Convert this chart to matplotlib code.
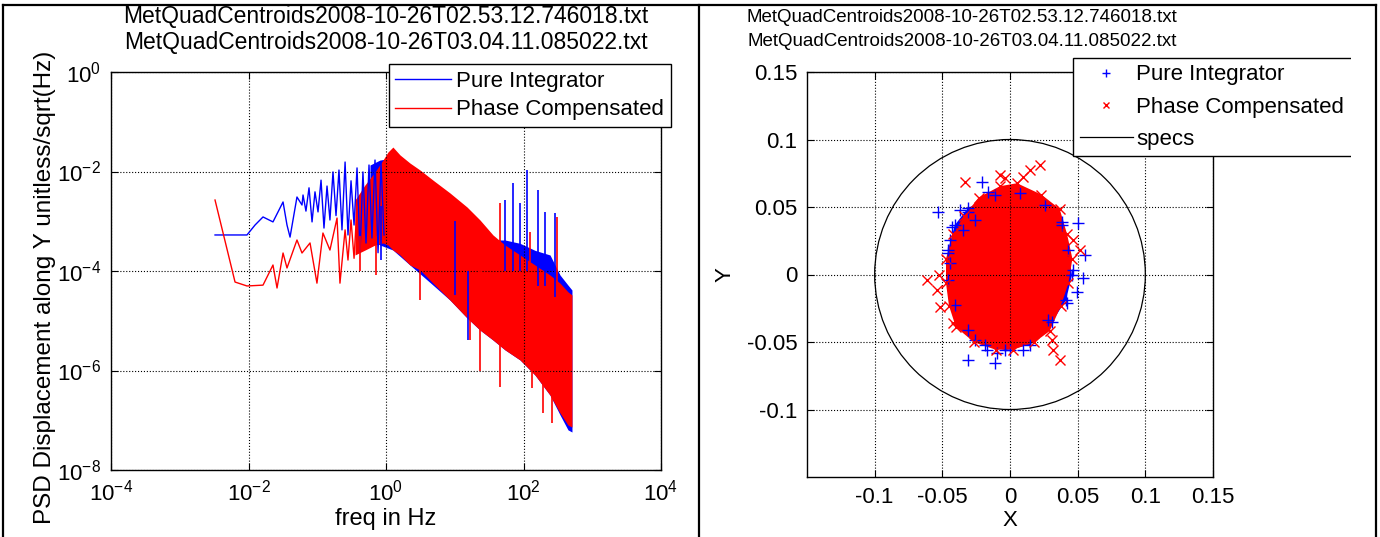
import matplotlib
matplotlib.use("Agg")
import matplotlib.pyplot as plt
from matplotlib.patches import Circle
from matplotlib.lines import Line2D
from matplotlib.transforms import Bbox, TransformedBbox
from matplotlib.ticker import NullLocator, LogFormatterMathtext

plt.rcParams['font.family'] = ['Liberation Sans', 'DejaVu Sans']
plt.rcParams['mathtext.fontset'] = 'custom'
plt.rcParams['mathtext.rm'] = 'Liberation Sans'
plt.rcParams['mathtext.default'] = 'regular'
plt.rcParams['axes.unicode_minus'] = False

BLUE = '#0000ff'
RED = '#ff0000'

file_a = 'MetQuadCentroids2008-10-26T02.53.12.746018.txt'
file_b = 'MetQuadCentroids2008-10-26T03.04.11.085022.txt'

# ---------------------------------------------------------------
# PSD panel, values
# ---------------------------------------------------------------
# Pure Integrator, sparse low-frequency part
pi_low_f = [0.00326, 0.0095, 0.01245, 0.01626, 0.0227, 0.0318, 0.0363, 0.0402,
            0.0507, 0.060, 0.0621, 0.0685, 0.0759, 0.084, 0.0927, 0.1026, 0.1135,
            0.1253, 0.1387, 0.153, 0.1694, 0.1875, 0.207, 0.229, 0.254, 0.28, 0.31,
            0.343, 0.379, 0.419, 0.462, 0.512, 0.566, 0.625, 0.692, 0.766, 0.846,
            0.935]
pi_low_psd = [5.3e-4, 5.3e-4, 8.4e-4, 1.22e-3, 9.7e-4, 2.44e-3, 8.4e-4, 4.8e-4,
              3.07e-3, 2.12e-3, 3.37e-3, 1.6e-3, 4.7e-3, 9.7e-4, 3.9e-3, 1.54e-3,
              6.7e-3, 7.3e-4, 5.1e-3, 1.06e-3, 9.8e-3, 1.3e-3, 1.07e-2, 6.7e-4,
              1.55e-2, 5.3e-4, 6.5e-3, 8.4e-4, 1.18e-2, 2.4e-4, 9.8e-3, 3.64e-4,
              1.35e-2, 4.6e-4, 1.7e-2, 2.33e-4, 1.48e-2, 5.3e-4]
# Pure Integrator, dense part (envelope of the noise)
pi_band_f = [0.585, 0.818, 1.26, 2.23, 4.83, 8.53, 15.1, 23.3, 36, 53.8, 89, 147,
             243, 340, 444, 507]
pi_band_hi = [1.35e-2, 1.7e-2, 1.87e-2, 1.35e-2, 5.4e-3, 2.67e-3, 1.34e-3, 5.3e-4,
              4.2e-4, 4.2e-4, 3.6e-4, 2.6e-4, 2.1e-4, 8.3e-5, 5.2e-5, 4.15e-5]
pi_band_lo = [4.2e-4, 3.33e-4, 2.64e-4, 1.32e-4, 5.2e-5, 2.6e-5, 1.14e-5, 6.5e-6,
              4.1e-6, 2.6e-6, 1.63e-6, 8.1e-7, 3.2e-7, 1.28e-7, 6.4e-8, 5.8e-8]
pi_spike_f = [0.85, 10.1, 15.6, 53.8, 70.3, 89, 112, 163, 206, 287]
pi_spike_lo = [1.66e-4, 3.3e-5, 4.1e-6, 1e-4, 1e-4, 1e-4, 1e-4, 5e-5, 5e-5, 3e-5]
pi_spike_hi = [2e-3, 1e-3, 1e-4, 2.67e-3, 5.9e-3, 2.3e-3, 1.07e-2, 4.25e-3, 1.5e-3,
               1.47e-3]

# Phase Compensated, sparse low-frequency part
pc_low_f = [0.00326, 0.00637, 0.0095, 0.01626, 0.0227, 0.026, 0.0318, 0.0363,
            0.0507, 0.060, 0.0785, 0.099, 0.121, 0.153, 0.194, 0.214, 0.254, 0.28,
            0.31, 0.343, 0.379]
pc_low_psd = [2.67e-3, 6.0e-5, 5.0e-5, 5.2e-5, 1.32e-4, 4.55e-5, 2.3e-4, 1.15e-4,
              4.2e-4, 2.3e-4, 3.66e-4, 5.7e-5, 5.8e-4, 2.64e-4, 1.16e-3, 5.7e-5,
              6.7e-4, 1.66e-4, 1.06e-3, 1.8e-4, 2.0e-3]
# Phase Compensated, dense part
pc_band_f = [0.354, 0.496, 0.692, 0.904, 1.07, 1.26, 1.6, 2.23, 3.13, 4.83,
             8.53, 15.1, 23.3, 36, 53.8, 89, 147, 243, 340, 444, 507]
pc_band_hi = [2.67e-3, 5.4e-3, 9.8e-3, 1.7e-2, 2.47e-2, 3.1e-2, 2.15e-2,
              1.48e-2, 1.07e-2, 6.7e-3, 3.7e-3, 1.93e-3, 1.06e-3, 5.3e-4, 3.33e-4,
              2.1e-4, 1.32e-4, 8.3e-5, 5.7e-5, 3.8e-5, 3.3e-5]
pc_band_lo = [2.1e-4, 2.64e-4, 3.33e-4, 3.66e-4, 3.33e-4, 2.64e-4, 2.1e-4,
              1.32e-4, 1.05e-4, 5.7e-5, 2.6e-5, 1.14e-5, 6.5e-6, 4.1e-6, 2.6e-6,
              1.63e-6, 8.1e-7, 3.2e-7, 1.4e-7, 8.0e-8, 7.3e-8]
pc_spike_f = [45.5, 307, 124, 23.3, 45.5, 133, 192, 260, 16.7, 3.13, 0.72, 0.42]
pc_spike_lo = [2e-4, 3e-5, 1.5e-4, 1e-6, 4.66e-7, 4.45e-7, 1.4e-7, 8.8e-8, 4.1e-6,
               2.6e-5, 8.3e-5, 1.0e-4]
pc_spike_hi = [2.33e-3, 1.22e-3, 6e-4, 1e-4, 1e-5, 1e-5, 5e-6, 2e-6, 5e-5, 2e-4,
               5e-4, 5e-4]

# ---------------------------------------------------------------
# Centroid panel, values
# ---------------------------------------------------------------
# dense cores (outline of the filled cloud)
pi_core_x = [-0.0111, 0.0074, 0.0259, 0.0384, 0.0429, 0.0458, 0.0414, 0.031, 0.0148,
             -0.0037, -0.0185, -0.031, -0.0407, -0.0458, -0.0458, -0.0407, -0.031]
pi_core_y = [0.0589, 0.0604, 0.0515, 0.0389, 0.0181, -0.0004, -0.0189, -0.0352,
             -0.0522, -0.0559, -0.0522, -0.0411, -0.0226, -0.0041, 0.0181, 0.0367,
             0.0493]
pc_core_x = [-0.0074, 0.0052, 0.0232, 0.0367, 0.0422, 0.0461, 0.0432, 0.0377, 0.0293,
             0.018, 0.0022, -0.0106, -0.0264, -0.040, -0.0451, -0.0473, -0.0473,
             -0.0422, -0.0338, -0.0232]
pc_core_y = [0.0654, 0.0676, 0.0592, 0.0486, 0.0298, 0.0117, -0.0063, -0.0231,
             -0.0419, -0.0503, -0.0557, -0.0557, -0.0503, -0.0389, -0.0231, -0.0063,
             0.0117, 0.0298, 0.0434, 0.057]
# scattered points outside the cores
pi_out_x = [-0.0207, -0.0163, -0.037, -0.031, -0.0429, -0.0347, -0.0259, -0.0443,
            -0.0458, -0.0443, 0.0503, 0.0384, 0.0466, 0.054, 0.0495, 0.0421, 0.0281,
            -0.0259, -0.017, -0.0096, -0.0111, 0.0, 0.0096, -0.031, -0.0532, 0.0554]
pi_out_y = [0.0685, 0.0611, 0.0478, 0.0463, 0.0352, 0.033, 0.0404, 0.0256, 0.0159,
            0.0085, 0.0381, 0.0367, 0.0033, -0.0026, -0.013, -0.0211, -0.0337,
            -0.0485, -0.0559, -0.0581, -0.0656, -0.0559, -0.0559, -0.0633, 0.0463,
            0.0144]
pc_out_x = [-0.0333, -0.0037, 0.0148, 0.0096, 0.0222, 0.0466, 0.0517, -0.0613,
            -0.054, -0.0517, -0.0421, 0.0318, 0.031, 0.037, -0.0525, -0.0074]
pc_out_y = [0.0685, 0.0715, 0.0774, 0.0722, 0.0811, 0.0256, 0.0181, -0.0041,
            -0.0115, -0.0241, -0.0359, -0.0559, -0.0485, -0.0633, -0.0004, 0.0737]
spec_radius = 0.1

xy_ticks = [-0.1, -0.05, 0, 0.05, 0.1, 0.15]
xy_ticklabels = ['-0.1', '-0.05', '0', '0.05', '0.1', '0.15']

W, H = 1380, 537
fig = plt.figure(figsize=(W / 100, H / 100), dpi=100)


def style_axes(ax):
    ax.grid(True, which='major', linestyle=':', color='k', linewidth=0.8)
    ax.tick_params(direction='in', length=5, width=0.8, top=True, right=True,
                   labelsize=16, pad=7)
    for s in ax.spines.values():
        s.set_linewidth(1.0)


# ---- left: PSD ----
ax1 = fig.add_axes([111 / W, 1 - 470 / H, 550 / W, 398 / H])
ax1.set_xscale('log')
ax1.set_yscale('log')
ax1.fill_between(pi_band_f, pi_band_lo, pi_band_hi, color=BLUE, lw=0)
ax1.vlines(pi_spike_f, pi_spike_lo, pi_spike_hi, color=BLUE, lw=1.2)
l1, = ax1.plot(pi_low_f, pi_low_psd, color=BLUE, lw=1, label='Pure Integrator')
ax1.fill_between(pc_band_f, pc_band_lo, pc_band_hi, color=RED, lw=0)
ax1.vlines(pc_spike_f, pc_spike_lo, pc_spike_hi, color=RED, lw=1.2)
l2, = ax1.plot(pc_low_f, pc_low_psd, color=RED, lw=1, label='Phase Compensated')
ax1.set_xlim(1e-4, 1e4)
ax1.set_ylim(1e-8, 1)
ax1.set_xticks([1e-4, 1e-2, 1, 1e2, 1e4])
ax1.set_yticks([1e-8, 1e-6, 1e-4, 1e-2, 1])
ax1.xaxis.set_minor_locator(NullLocator())
ax1.yaxis.set_minor_locator(NullLocator())
ax1.xaxis.set_major_formatter(LogFormatterMathtext())
ax1.yaxis.set_major_formatter(LogFormatterMathtext())
style_axes(ax1)
ax1.set_xlabel('freq in Hz', fontsize=17, labelpad=2)
fig.text(45 / W, 1 - 287 / H, 'PSD Displacement along Y unitless/sqrt(Hz)',
         rotation=90, ha='center', va='center', fontsize=17.5)
leg1 = ax1.legend(handles=[l1, l2], loc='upper right', bbox_to_anchor=(1.018, 1.02),
                  borderaxespad=0, fontsize=16, fancybox=False, edgecolor='k',
                  framealpha=1, handlelength=2.5, handletextpad=0.25,
                  borderpad=0.3, labelspacing=0.35)
leg1.get_frame().set_linewidth(1.0)
fig.text(386 / W, 1 - 17 / H, file_a, ha='center', va='center', fontsize=16.5)
fig.text(386 / W, 1 - 42 / H, file_b, ha='center', va='center', fontsize=16.5)

# ---- right: centroids ----
ax2 = fig.add_axes([807 / W, 1 - 477 / H, 406 / W, 405 / H])
ax2.fill(pi_core_x, pi_core_y, color=BLUE, lw=0)
ax2.plot(pi_core_x, pi_core_y, '+', color=BLUE, ms=9, mew=1)
h1, = ax2.plot(pi_out_x, pi_out_y, '+', color=BLUE, ms=9, mew=1, label='Pure Integrator')
ax2.fill(pc_core_x, pc_core_y, color=RED, lw=0)
ax2.plot(pc_core_x, pc_core_y, 'x', color=RED, ms=7, mew=1)
h2, = ax2.plot(pc_out_x, pc_out_y, 'x', color=RED, ms=7, mew=1, label='Phase Compensated')
ax2.add_patch(Circle((0, 0), spec_radius, fill=False, color='k', lw=0.9))
h3 = Line2D([], [], color='k', lw=0.9, label='specs')
ax2.set_xlim(-0.15, 0.15)
ax2.set_ylim(-0.15, 0.15)
ax2.set_xticks(xy_ticks, xy_ticklabels)
ax2.set_yticks(xy_ticks, xy_ticklabels)
style_axes(ax2)
ax2.set_xlabel('X', fontsize=16, labelpad=2)
ax2.set_ylabel('Y', fontsize=16, labelpad=8)
leg2 = ax2.legend(handles=[h1, h2, h3], loc='upper left',
                  bbox_to_anchor=(0.655, 0, 0.687, 1.035), mode='expand',
                  borderaxespad=0, fontsize=16, fancybox=False, edgecolor='k',
                  framealpha=1, handlelength=2.4, handletextpad=0.15,
                  borderpad=0.3, labelspacing=0.5, markerscale=0.7)
leg2.get_frame().set_linewidth(1.0)
leg2.legendPatch.set_clip_box(TransformedBbox(Bbox([[0, 0], [1350.5 / W, 1]]),
                                              fig.transFigure))
fig.text(962 / W, 1 - 17 / H, file_a, ha='center', va='center', fontsize=13.5)
fig.text(962 / W, 1 - 42 / H, file_b, ha='center', va='center', fontsize=13.5)

# panel frames
for xs, ys in [([3, 1376], [5, 5]), ([3, 3], [5, H]), ([1376, 1376], [5, H]),
               ([699, 699], [5, H])]:
    fig.add_artist(Line2D([x / W for x in xs], [1 - y / H for y in ys],
                          transform=fig.transFigure, color='k', lw=1.6))

fig.savefig('out.png', dpi=100)
